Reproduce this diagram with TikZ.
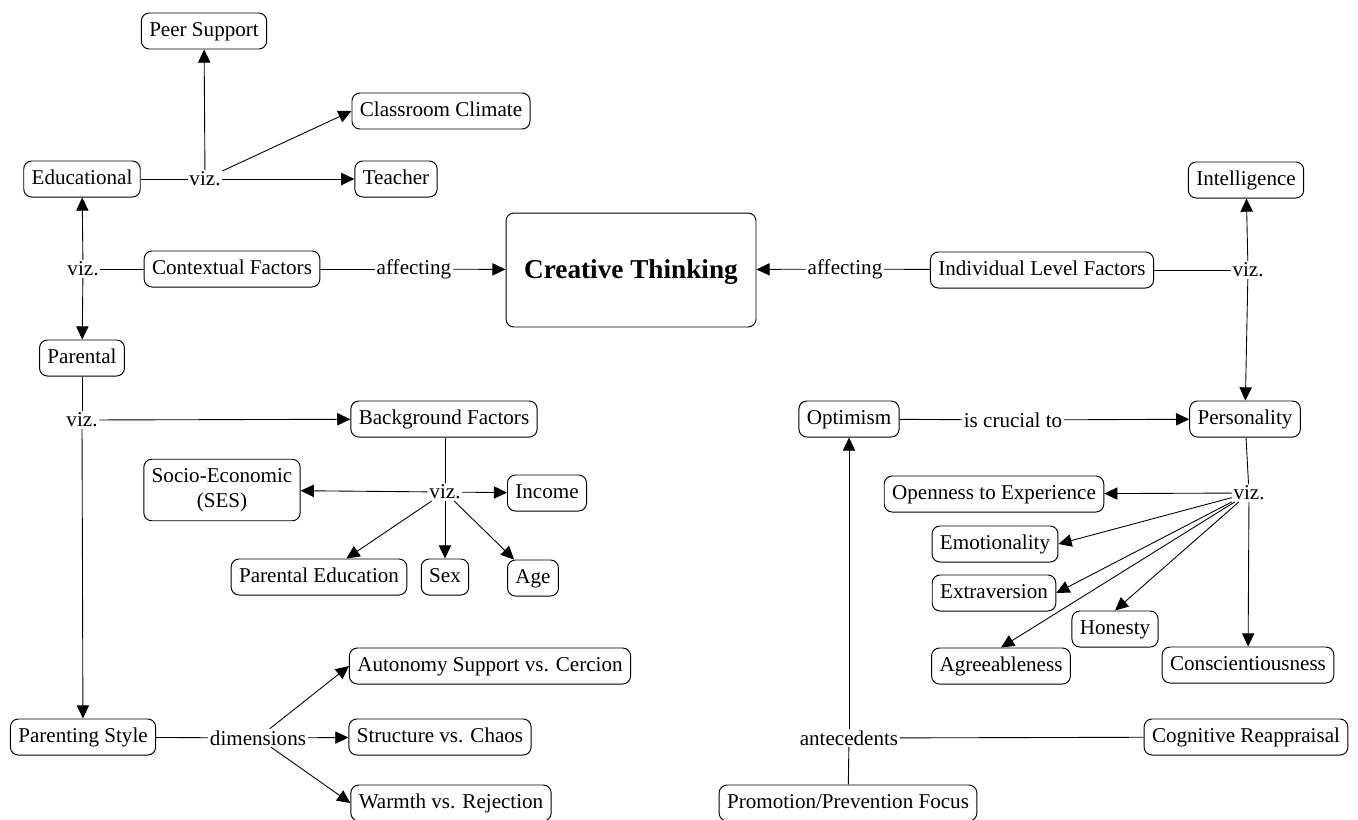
\documentclass[tikz,border=0pt]{standalone}
\usepackage{fontspec}
\setmainfont{Liberation Serif}
\usetikzlibrary{arrows.meta}

\tikzset{
	cbox/.style={draw, fill=white, rounded corners=4.5pt, line width=0.55pt,
		inner xsep=4.5pt, inner ysep=4.7pt, text height=8.5pt, text depth=2.6pt,
		font=\fontsize{12}{14.5}\selectfont},
	phrase/.style={inner sep=0.8pt, font=\fontsize{12}{14.5}\selectfont},
	link/.style={line width=0.5pt},
	linkto/.style={line width=0.5pt, -{Triangle[length=7.5pt,width=7pt]}}
}

\begin{document}
\begin{tikzpicture}[x=0.02cm, y=-0.02cm]
	\path[use as bounding box, fill=white] (0,0) rectangle (1358,819);

	% centre
	\node[cbox, minimum width=5cm, minimum height=2.28cm, text height=12pt, text depth=2pt,
		font=\fontsize{15.5}{18}\selectfont\bfseries] (ct) at (631,270) {Creative Thinking};

	% contextual side
	\node[cbox] (ctx) at (232,269) {Contextual Factors};
	\node[phrase] (affL) at (414,269) {affecting};
	\node[phrase] (vizC) at (83,269) {viz.};
	\node[cbox] (edu) at (82,179) {Educational};
	\node[phrase] (vizE) at (205,179) {viz.};
	\node[cbox] (peer) at (204,31) {Peer Support};
	\node[cbox] (clim) at (441,111) {Classroom Climate};
	\node[cbox] (teach) at (396,179) {Teacher};
	\node[cbox] (par) at (82,358) {Parental};
	\node[phrase] (vizP) at (82,420) {viz.};
	\node[cbox] (bg) at (444,419) {Background Factors};
	\node[phrase] (vizB) at (445,492) {viz.};
	\node[cbox, align=center, text height=23pt, text depth=2.6pt] (ses) at (222,490) {Socio-Economic\\(SES)};
	\node[cbox] (inc) at (547,493) {Income};
	\node[cbox] (pedu) at (319,577) {Parental Education};
	\node[cbox] (sex) at (445,577) {Sex};
	\node[cbox] (age) at (533,578) {Age};
	\node[cbox] (pstyle) at (83,737) {Parenting Style};
	\node[phrase] (dims) at (258,738) {dimensions};
	\node[cbox] (auto) at (490,666) {Autonomy Support vs. Cercion};
	\node[cbox] (struct) at (440,737) {Structure vs. Chaos};
	\node[cbox] (warm) at (451,803) {Warmth vs. Rejection};

	% individual side
	\node[cbox] (ind) at (1042,270) {Individual Level Factors};
	\node[phrase] (affR) at (845,269) {affecting};
	\node[phrase] (vizI) at (1248,270) {viz.};
	\node[cbox] (intel) at (1246,180) {Intelligence};
	\node[cbox] (pers) at (1245,419) {Personality};
	\node[cbox] (opt) at (849,419) {Optimism};
	\node[phrase] (crucial) at (1013,420) {is crucial to};
	\node[phrase] (vizQ) at (1249,493) {viz.};
	\node[cbox] (open) at (994,494) {Openness to Experience};
	\node[cbox] (emo) at (995,544) {Emotionality};
	\node[cbox] (extra) at (994,593) {Extraversion};
	\node[cbox] (hon) at (1115,629) {Honesty};
	\node[cbox] (agree) at (1001,666) {Agreeableness};
	\node[cbox] (consc) at (1248,665) {Conscientiousness};
	\node[cbox] (cog) at (1246,737) {Cognitive Reappraisal};
	\node[phrase] (ante) at (849,738) {antecedents};
	\node[cbox] (promo) at (848,803) {Promotion/Prevention Focus};

	% links, left
	\draw[link] (ctx) -- (affL);
	\draw[linkto] (affL) -- (ct);
	\draw[link] (ctx) -- (vizC);
	\draw[linkto] (vizC) -- (edu);
	\draw[linkto] (vizC) -- (par);
	\draw[link] (edu) -- (vizE);
	\draw[linkto] (vizE) -- (peer);
	\draw[linkto] (vizE) -- (clim.west);
	\draw[linkto] (vizE) -- (teach);
	\draw[link] (par) -- (vizP);
	\draw[linkto] (vizP) -- (bg);
	\draw[linkto] (vizP) -- (pstyle);
	\draw[link] (bg.south -| vizB) -- (vizB);
	\draw[linkto] (vizB) -- (ses);
	\draw[linkto] (vizB) -- (inc);
	\draw[linkto] (vizB) -- (pedu);
	\draw[linkto] (vizB) -- (sex);
	\draw[linkto] (vizB) -- (age);
	\draw[link] (pstyle) -- (dims);
	\draw[linkto] (dims) -- (auto.west);
	\draw[linkto] (dims) -- (struct);
	\draw[linkto] (dims) -- (warm.west);

	% links, right
	\draw[link] (ind) -- (affR);
	\draw[linkto] (affR) -- (ct);
	\draw[link] (ind) -- (vizI);
	\draw[linkto] (vizI) -- (intel);
	\draw[linkto] (vizI) -- (pers);
	\draw[link] (opt) -- (crucial);
	\draw[linkto] (crucial) -- (pers);
	\draw[link] (pers) -- (vizQ);
	\draw[linkto] (vizQ) -- (open);
	\draw[linkto] (vizQ) -- (emo.east);
	\draw[linkto] (vizQ) -- (extra.east);
	\draw[linkto] (vizQ) -- (hon.north);
	\draw[linkto] (vizQ) -- (agree.north);
	\draw[linkto] (vizQ) -- (consc);
	\draw[link] (promo) -- (ante);
	\draw[link] (cog) -- (ante);
	\draw[linkto] (ante) -- (opt);
\end{tikzpicture}
\end{document}
